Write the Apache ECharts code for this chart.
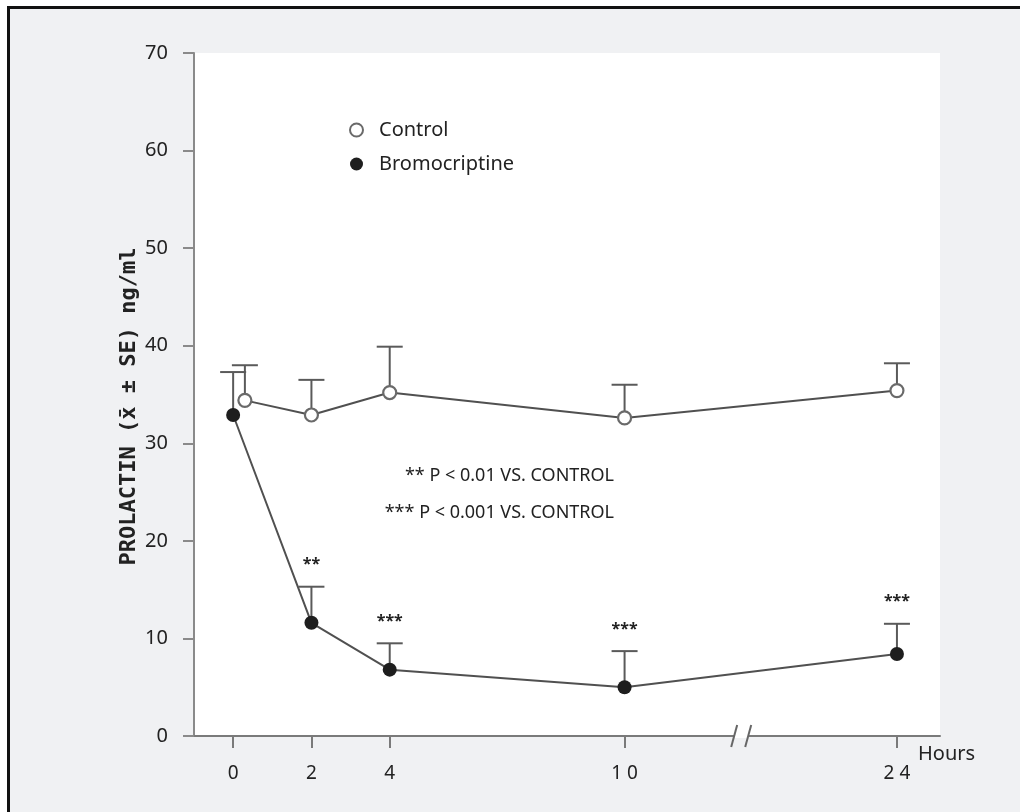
<!DOCTYPE html>
<html>
<head>
<meta charset="utf-8">
<script src="https://cdn.jsdelivr.net/npm/echarts@6.0.0/dist/echarts.min.js"></script>
<style>
  html, body { margin: 0; padding: 0; background: #ffffff; overflow: hidden; width: 1020px; height: 812px; }
  #frame { position: absolute; left: 7px; top: 6px; width: 1013px; height: 806px; box-sizing: border-box;
           border-left: 3px solid #111; border-top: 3px solid #111; background: #f0f1f3; }
  #chart { position: absolute; left: 0; top: 0; width: 1020px; height: 812px; }
</style>
</head>
<body>
<div id="frame"></div>
<div id="chart"></div>
<script>
// ---- data ----
const hours = [0, 2, 4, 10, 24];
const controlHours = [0.3, 2, 4, 10, 24];
const hourTickLabels = ['0', '2', '4', '1 0', '2 4'];
const controlMean = [34.4, 32.9, 35.2, 32.6, 35.4];
const controlSE = [3.6, 3.6, 4.7, 3.4, 2.8];
const bromoMean = [32.9, 11.6, 6.8, 5.0, 8.4];
const bromoSE = [4.4, 3.7, 2.7, 3.7, 3.1];
const bromoSig = ['', '**', '***', '***', '***'];
const yTicks = [0, 10, 20, 30, 40, 50, 60, 70];
const breakStart = 12.8;
const breakEnd = 20.2;
const notes = ['** P < 0.01 VS. CONTROL', '*** P < 0.001 VS. CONTROL'];

const font = "'Noto Sans', 'Open Sans', sans-serif";
const chart = echarts.init(document.getElementById('chart'), null, { renderer: 'canvas' });

function errRender(sigArr) {
  return function (params, api) {
    const x = api.value(0), m = api.value(1), se = api.value(2);
    const p0 = api.coord([x, m]);
    const p1 = api.coord([x, m + se]);
    const half = 13;
    const children = [
      { type: 'line', shape: { x1: p0[0], y1: p0[1], x2: p1[0], y2: p1[1] },
        style: { stroke: '#5a5a5a', lineWidth: 2 } },
      { type: 'line', shape: { x1: p1[0] - half, y1: p1[1], x2: p1[0] + half, y2: p1[1] },
        style: { stroke: '#5a5a5a', lineWidth: 2 } }
    ];
    if (sigArr && sigArr[params.dataIndex]) {
      children.push({ type: 'text', x: p1[0], y: p1[1] - 14,
        style: { text: sigArr[params.dataIndex], fill: '#222', font: 'bold 16px ' + font,
                 align: 'center', verticalAlign: 'bottom' } });
    }
    return { type: 'group', children };
  };
}

function breakRender(params, api) {
  const a = api.coord([breakStart, 0]);
  const b = api.coord([breakEnd, 0]);
  const mk = (x, y) => ({ type: 'line', shape: { x1: x - 3, y1: y + 11, x2: x + 3, y2: y - 11 },
                          style: { stroke: '#666', lineWidth: 2 } });
  return { type: 'group', children: [
    { type: 'rect', shape: { x: a[0], y: a[1] - 2, width: b[0] - a[0], height: 4 },
      style: { fill: '#ffffff' } },
    mk(a[0], a[1]), mk(b[0], b[1])
  ] };
}

const option = {
  animation: false,
  textStyle: { fontFamily: font },
  grid: { left: 194, right: 80, top: 53, bottom: 76, show: true, backgroundColor: '#ffffff', borderWidth: 0 },
  legend: {
    orient: 'vertical', left: 344, top: 115, itemGap: 14, itemWidth: 13, itemHeight: 13,
    icon: 'circle',
    textStyle: { fontSize: 20, color: '#222', fontFamily: font, padding: [0, 0, 0, 11] },
    data: [
      { name: 'Control', itemStyle: { color: '#ffffff', borderColor: '#6a6a6a', borderWidth: 2 } },
      { name: 'Bromocriptine', itemStyle: { color: '#1e1e1e' } }
    ]
  },
  xAxis: {
    type: 'value', min: -1, max: 25.1,
    breaks: [{ start: breakStart, end: breakEnd, gap: '1.88%' }],
    breakArea: { show: false },
    name: 'Hours', nameLocation: 'end', nameGap: -22,
    nameTextStyle: { fontSize: 20, color: '#222', align: 'left', verticalAlign: 'top', padding: [8, 0, 0, 0] },
    axisLine: { show: true, onZero: false, lineStyle: { color: '#7a7a7a', width: 2 } },
    axisTick: { show: true, customValues: hours, length: 12, lineStyle: { color: '#7a7a7a', width: 2 } },
    axisLabel: { customValues: hours, margin: 28, fontSize: 19, color: '#222',
      formatter: v => hourTickLabels[hours.indexOf(v)] ?? '' },
    splitLine: { show: false }
  },
  yAxis: {
    type: 'value', min: 0, max: 70, interval: 10,
    name: 'PROLACTIN (x\u0304 \u00b1 SE) ng/ml', nameLocation: 'middle', nameGap: 54, nameRotate: 90,
    nameMoveOverlap: false,
    nameTextStyle: { fontSize: 22, fontWeight: 'bold', color: '#222', fontFamily: "'DejaVu Sans Mono', monospace",
      padding: [0, 24, 0, 0] },
    axisLine: { show: true, onZero: false, lineStyle: { color: '#8a8a8a', width: 2 } },
    axisTick: { show: true, length: 11, lineStyle: { color: '#8a8a8a', width: 2 } },
    axisLabel: { margin: 26, fontSize: 20, color: '#222',
      formatter: v => yTicks.includes(v) ? String(v) : '' },
    splitLine: { show: false }
  },
  graphic: [
    { type: 'text', right: 1020 - 614, top: 467,
      style: { text: notes[0], font: '18px ' + font, fill: '#222', align: 'right' } },
    { type: 'text', right: 1020 - 614, top: 504,
      style: { text: notes[1], font: '18px ' + font, fill: '#222', align: 'right' } }
  ],
  series: [
    { type: 'custom', name: 'brkmark', renderItem: breakRender, data: [[breakStart, 0]], clip: false,
      silent: true, z: 5 },
    { type: 'custom', name: 'ctlErr', renderItem: errRender(null),
      data: controlHours.map((h, i) => [h, controlMean[i], controlSE[i]]), z: 2, silent: true },
    { type: 'custom', name: 'bromoErr', renderItem: errRender(bromoSig),
      data: hours.map((h, i) => [h, bromoMean[i], bromoSE[i]]), z: 2, silent: true },
    { type: 'line', name: 'Control', data: controlHours.map((h, i) => [h, controlMean[i]]),
      symbol: 'circle', symbolSize: 13,
      itemStyle: { color: '#ffffff', borderColor: '#6a6a6a', borderWidth: 2.2 },
      lineStyle: { color: '#505050', width: 2 }, z: 3 },
    { type: 'line', name: 'Bromocriptine', data: hours.map((h, i) => [h, bromoMean[i]]),
      symbol: 'circle', symbolSize: 14,
      itemStyle: { color: '#1e1e1e', borderColor: '#1e1e1e', borderWidth: 0 },
      lineStyle: { color: '#505050', width: 2 }, z: 3 }
  ]
};
chart.setOption(option);
</script>
</body>
</html>
